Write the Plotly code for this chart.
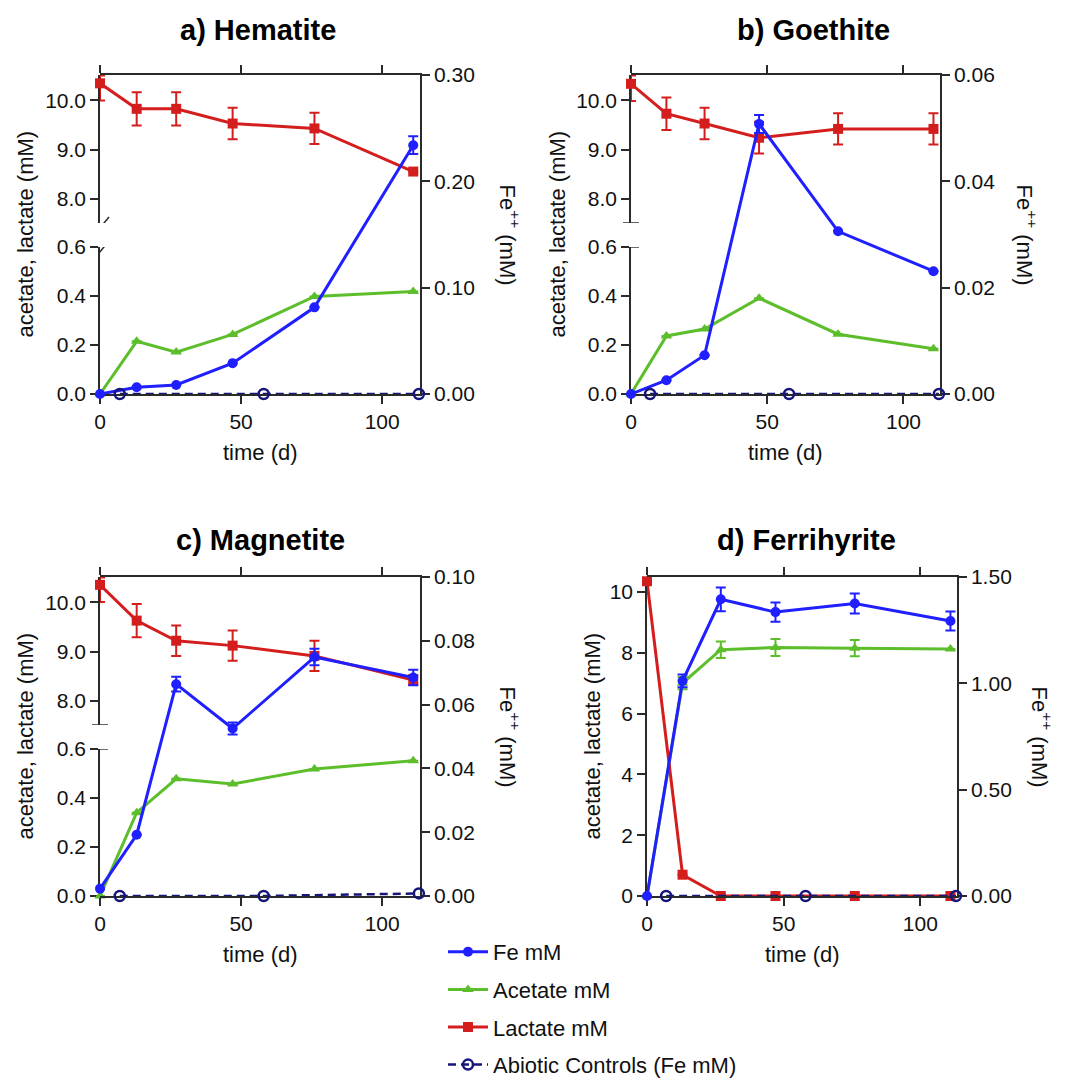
import plotly.graph_objects as go

# ---------------- data ----------------
time = [0, 13, 27, 47, 76, 111]
abiotic_time = [7, 58, 113]

panel_titles = ["a) Hematite", "b) Goethite", "c) Magnetite", "d) Ferrihyrite"]
series_names = ["Fe mM", "Acetate mM", "Lactate mM", "Abiotic Controls (Fe mM)"]

# a) Hematite
fe_a = [0, 0.0063, 0.0085, 0.029, 0.0815, 0.234]
fe_a_err = [0, 0, 0, 0, 0, 0.0083]
acetate_a = [0, 0.215, 0.171, 0.243, 0.398, 0.418]
acetate_a_err = [0, 0, 0, 0, 0, 0]
lactate_a = [10.35, 9.83, 9.83, 9.53, 9.43, 8.55]
lactate_a_err_up = [0.16, 0.34, 0.34, 0.32, 0.32, 0]
lactate_a_err_down = [0.35, 0.34, 0.34, 0.32, 0.32, 0]
abiotic_a = [0, 0, 0]

# b) Goethite
fe_b = [0, 0.0026, 0.0073, 0.0508, 0.0306, 0.0231]
fe_b_err = [0, 0, 0, 0.0017, 0, 0]
acetate_b = [0, 0.237, 0.265, 0.391, 0.244, 0.185]
acetate_b_err = [0, 0, 0, 0, 0, 0]
lactate_b = [10.34, 9.73, 9.53, 9.24, 9.42, 9.42]
lactate_b_err_up = [0.17, 0.33, 0.32, 0.32, 0.32, 0.32]
lactate_b_err_down = [0.35, 0.33, 0.32, 0.32, 0.32, 0.32]
abiotic_b = [0, 0, 0]

# c) Magnetite
fe_c = [0.0023, 0.0192, 0.0664, 0.0525, 0.0749, 0.0685]
fe_c_err = [0, 0, 0.0023, 0.0019, 0.0026, 0.0024]
acetate_c = [0, 0.34, 0.478, 0.457, 0.518, 0.552]
acetate_c_err = [0, 0, 0, 0, 0, 0]
lactate_c = [10.36, 9.63, 9.22, 9.12, 8.91, 8.42]
lactate_c_err_up = [0.15, 0.34, 0.31, 0.31, 0.31, 0.1]
lactate_c_err_down = [0.35, 0.34, 0.31, 0.31, 0.31, 0.1]
abiotic_c = [0, 0, 0.0008]

# d) Ferrihyrite
fe_d = [0, 1.011, 1.395, 1.335, 1.375, 1.293]
fe_d_err = [0, 0.03, 0.056, 0.045, 0.047, 0.045]
acetate_d = [0, 7.0, 8.1, 8.17, 8.15, 8.12]
acetate_d_err = [0, 0.2, 0.27, 0.28, 0.27, 0]
lactate_d = [10.35, 0.70, 0, 0, 0, 0]
lactate_d_err_up = [0, 0, 0, 0, 0, 0]
lactate_d_err_down = [0, 0, 0, 0, 0, 0]
abiotic_d = [0, 0, 0]

# right-axis (Fe++) ticks per panel
fe_ticks_a = [0, 0.1, 0.2, 0.3]
fe_ticks_b = [0, 0.02, 0.04, 0.06]
fe_ticks_c = [0, 0.02, 0.04, 0.06, 0.08, 0.10]
fe_ticks_d = [0, 0.5, 1.0, 1.5]
left_top_ticks = [8, 9, 10]
left_bottom_ticks = [0, 0.2, 0.4, 0.6]
left_full_ticks = [0, 2, 4, 6, 8, 10]
time_ticks = [0, 50, 100]

# ---------------- styling / layout ----------------
W, H = 1070, 1080
FONT = "Liberation Sans, Arial, sans-serif"
C_FE = "#1F1FFF"
C_AC = "#5DBE2C"
C_LA = "#D41E1E"
C_AB = "#15157A"
AXC = "#2a2a2a"

panels = [
    dict(title=panel_titles[0], fe=fe_a, fe_err=fe_a_err, ac=acetate_a, ac_err=acetate_a_err,
         la=lactate_a, la_up=lactate_a_err_up, la_dn=lactate_a_err_down, ab=abiotic_a,
         fe_ticks=fe_ticks_a, broken=True, brk="slash",
         box=(100, 420, 75, 394), title_xy=(258, 30), ltitle_x=25, rtitle_x=510),
    dict(title=panel_titles[1], fe=fe_b, fe_err=fe_b_err, ac=acetate_b, ac_err=acetate_b_err,
         la=lactate_b, la_up=lactate_b_err_up, la_dn=lactate_b_err_down, ab=abiotic_b,
         fe_ticks=fe_ticks_b, broken=True, brk="tick",
         box=(631, 940, 75, 394), title_xy=(813, 30), ltitle_x=557, rtitle_x=1027),
    dict(title=panel_titles[2], fe=fe_c, fe_err=fe_c_err, ac=acetate_c, ac_err=acetate_c_err,
         la=lactate_c, la_up=lactate_c_err_up, la_dn=lactate_c_err_down, ab=abiotic_c,
         fe_ticks=fe_ticks_c, broken=True, brk="tick",
         box=(100, 420, 577, 896), title_xy=(260, 540), ltitle_x=25, rtitle_x=510),
    dict(title=panel_titles[3], fe=fe_d, fe_err=fe_d_err, ac=acetate_d, ac_err=acetate_d_err,
         la=lactate_d, la_up=lactate_d_err_up, la_dn=lactate_d_err_down, ab=abiotic_d,
         fe_ticks=fe_ticks_d, broken=False, brk=None,
         box=(647, 957, 577, 896), title_xy=(806, 540), ltitle_x=592, rtitle_x=1042),
]

BOTTOM_FRAC = 0.461
TOP_START = 0.536

def px_x(v):
    return v / W

def px_y(v):
    return 1 - v / H

axis_common = dict(
    showline=True, linecolor=AXC, linewidth=1.5,
    ticks="outside", ticklen=8, tickwidth=1.5, tickcolor=AXC,
    showgrid=False, zeroline=False,
    tickfont=dict(family=FONT, size=21, color="#111"),
    layer="below traces",
)

fig = go.Figure()
layout = {}
shapes = []
annotations = []
yid = 0

def yname(i):
    return "y" if i == 1 else f"y{i}"

def ykey(i):
    return "yaxis" if i == 1 else f"yaxis{i}"

for pi, p in enumerate(panels):
    xn = pi + 1
    xname = "x" if xn == 1 else f"x{xn}"
    xkey = "xaxis" if xn == 1 else f"xaxis{xn}"
    x0, x1, ytop, ybot = p["box"]
    dom_x = [px_x(x0), px_x(x1)]
    y_lo, y_hi = px_y(ybot), px_y(ytop)
    span = y_hi - y_lo

    if p["broken"]:
        yid += 1; yb = yid
        yid += 1; yt = yid
        layout[ykey(yb)] = dict(axis_common, anchor=xname, side="left",
                                domain=[y_lo, y_lo + BOTTOM_FRAC * span],
                                range=[0, 0.6], tickvals=left_bottom_ticks, tickformat=".1f")
        layout[ykey(yt)] = dict(axis_common, anchor=xname, side="left",
                                domain=[y_lo + TOP_START * span, y_hi],
                                range=[7.5, 10.52], tickvals=left_top_ticks, tickformat=".1f")
        y_ac, y_la = yb, yt
    else:
        yid += 1; yl = yid
        layout[ykey(yl)] = dict(axis_common, anchor=xname, side="left",
                                domain=[y_lo, y_hi], range=[0, 10.49],
                                tickvals=left_full_ticks, tickformat="d")
        y_ac = y_la = yl
    yid += 1; yr = yid
    fe_max = p["fe_ticks"][-1]
    layout[ykey(yr)] = dict(axis_common, anchor=xname, side="right",
                            domain=[y_lo, y_hi], range=[0, fe_max],
                            tickvals=p["fe_ticks"], tickformat=".2f")
    layout[xkey] = dict(axis_common, anchor=yname(yr), domain=dom_x,
                        range=[0, 113.4], tickvals=time_ticks, mirror="ticks")

    show = pi == 0
    # Fe
    fig.add_trace(go.Scatter(
        x=time, y=p["fe"], xaxis=xname, yaxis=yname(yr), name=series_names[0],
        legendgroup="fe", showlegend=show, legendrank=1, cliponaxis=False,
        mode="lines+markers", line=dict(color=C_FE, width=3),
        marker=dict(symbol="circle", size=10, color=C_FE),
        error_y=dict(type="data", array=p["fe_err"], color=C_FE, thickness=2, width=5),
    ))
    # Acetate
    fig.add_trace(go.Scatter(
        x=time, y=p["ac"], xaxis=xname, yaxis=yname(y_ac), name=series_names[1],
        legendgroup="ac", showlegend=show, legendrank=2, cliponaxis=False,
        mode="lines+markers", line=dict(color=C_AC, width=3),
        marker=dict(symbol="triangle-up", size=10, color=C_AC),
        error_y=dict(type="data", array=p["ac_err"], color=C_AC, thickness=2, width=5),
    ))
    # Lactate
    fig.add_trace(go.Scatter(
        x=time, y=p["la"], xaxis=xname, yaxis=yname(y_la), name=series_names[2],
        legendgroup="la", showlegend=show, legendrank=3, cliponaxis=False,
        mode="lines+markers", line=dict(color=C_LA, width=3),
        marker=dict(symbol="square", size=10, color=C_LA),
        error_y=dict(type="data", symmetric=False, array=p["la_up"], arrayminus=p["la_dn"],
                     color=C_LA, thickness=2, width=5),
    ))
    # Abiotic controls
    fig.add_trace(go.Scatter(
        x=abiotic_time, y=p["ab"], xaxis=xname, yaxis=yname(yr), name=series_names[3],
        legendgroup="ab", showlegend=show, legendrank=4, cliponaxis=False,
        mode="lines+markers", line=dict(color=C_AB, width=2.5, dash="8px,5px"),
        marker=dict(symbol="circle-open", size=10, color=C_AB, line=dict(width=2.5, color=C_AB)),
    ))

    # axis-break decorations
    if p["brk"] == "slash":
        for yax, yv in ((yt, 7.5), (yb, 0.6)):
            shapes.append(dict(type="line", xref=f"{xname} domain", yref=yname(yax),
                               xsizemode="pixel", xanchor=0, x0=-1, x1=9,
                               ysizemode="pixel", yanchor=yv, y0=-6, y1=6,
                               line=dict(color=AXC, width=1.5)))
    elif p["brk"] == "tick":
        shapes.append(dict(type="line", xref=f"{xname} domain", yref=yname(yt),
                           xsizemode="pixel", xanchor=0, x0=-8, x1=8,
                           ysizemode="pixel", yanchor=7.5, y0=0, y1=0,
                           line=dict(color=AXC, width=1.5)))
        shapes.append(dict(type="line", xref=f"{xname} domain", yref=yname(yb),
                           xsizemode="pixel", xanchor=0, x0=0, x1=8,
                           ysizemode="pixel", yanchor=0.6, y0=0, y1=0,
                           line=dict(color=AXC, width=1.5)))

    # titles
    tx, ty = p["title_xy"]
    annotations.append(dict(text=f"<b>{p['title']}</b>", x=px_x(tx), y=px_y(ty),
                            xref="paper", yref="paper", showarrow=False,
                            xanchor="center", yanchor="middle",
                            font=dict(family=FONT, size=29, color="#000")))
    cy = (ytop + ybot) / 2
    annotations.append(dict(text="acetate, lactate (mM)", x=px_x(p["ltitle_x"]), y=px_y(cy),
                            xref="paper", yref="paper", showarrow=False, textangle=-90,
                            xanchor="center", yanchor="middle",
                            font=dict(family=FONT, size=22, color="#111")))
    annotations.append(dict(text="Fe<sup>++</sup> (mM)", x=px_x(p["rtitle_x"]), y=px_y(cy),
                            xref="paper", yref="paper", showarrow=False, textangle=90,
                            xanchor="center", yanchor="middle",
                            font=dict(family=FONT, size=22, color="#111")))
    annotations.append(dict(text="time (d)", x=px_x((x0 + x1) / 2), y=px_y(ybot + 58),
                            xref="paper", yref="paper", showarrow=False,
                            xanchor="center", yanchor="middle",
                            font=dict(family=FONT, size=22, color="#111")))

fig.update_layout(**layout)
fig.update_layout(
    width=W, height=H,
    margin=dict(l=0, r=0, t=0, b=0, autoexpand=False),
    paper_bgcolor="white", plot_bgcolor="rgba(0,0,0,0)",
    shapes=shapes, annotations=annotations,
    showlegend=True,
    legend=dict(x=px_x(443), y=px_y(931), xanchor="left", yanchor="top",
                traceorder="grouped", tracegroupgap=6,
                font=dict(family=FONT, size=22, color="#111"),
                bgcolor="rgba(0,0,0,0)", itemwidth=40),
)

fig.write_html("out.html", config={"displayModeBar": False},
               post_script="document.body.style.margin='0';")
